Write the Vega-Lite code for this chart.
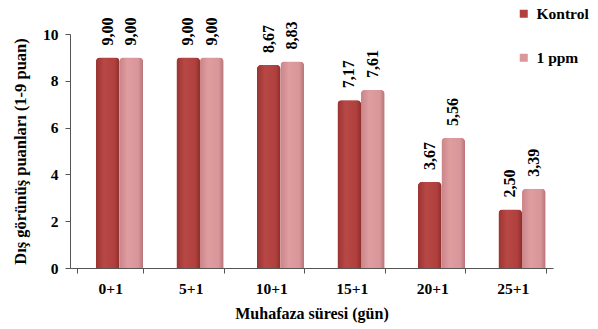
{
  "$schema": "https://vega.github.io/schema/vega-lite/v6.json",
  "width": 483,
  "height": 234,
  "autosize": {"type": "none"},
  "padding": {"left": 70, "top": 34, "right": 45, "bottom": 61},
  "background": "white",
  "config": {
    "locale": {"number": {"decimal": ",", "thousands": ".", "grouping": [3], "currency": ["", ""]}},
    "view": {"stroke": null},
    "font": "Liberation Serif"
  },
  "data": {
    "values": [
      {"sure": "0+1", "grup": "Kontrol", "puan": 9.00},
      {"sure": "0+1", "grup": "1 ppm", "puan": 9.00},
      {"sure": "5+1", "grup": "Kontrol", "puan": 9.00},
      {"sure": "5+1", "grup": "1 ppm", "puan": 9.00},
      {"sure": "10+1", "grup": "Kontrol", "puan": 8.67},
      {"sure": "10+1", "grup": "1 ppm", "puan": 8.83},
      {"sure": "15+1", "grup": "Kontrol", "puan": 7.17},
      {"sure": "15+1", "grup": "1 ppm", "puan": 7.61},
      {"sure": "20+1", "grup": "Kontrol", "puan": 3.67},
      {"sure": "20+1", "grup": "1 ppm", "puan": 5.56},
      {"sure": "25+1", "grup": "Kontrol", "puan": 2.50},
      {"sure": "25+1", "grup": "1 ppm", "puan": 3.39}
    ]
  },
  "encoding": {
    "x": {
      "field": "sure", "type": "nominal", "sort": null,
      "scale": {"paddingInner": 0.186, "paddingOuter": 0.093},
      "axis": {
        "title": "Muhafaza süresi (gün)",
        "titleFont": "Liberation Serif", "titleFontSize": 16, "titleFontWeight": "bold", "titleColor": "black",
        "titlePadding": 9,
        "labelAngle": 0, "labelFont": "Liberation Serif", "labelFontSize": 15.5, "labelFontWeight": "bold", "labelColor": "black",
        "labelPadding": 8,
        "domainColor": "#555555", "tickColor": "#555555", "tickBand": "extent", "tickSize": 5
      }
    },
    "xOffset": {"field": "grup", "type": "nominal", "sort": ["Kontrol", "1 ppm"],
      "scale": {"paddingInner": 0, "paddingOuter": 0.394, "align": 1}},
    "y": {
      "field": "puan", "type": "quantitative",
      "scale": {"domain": [0, 10]},
      "axis": {
        "title": "Dış görünüş puanları (1-9 puan)",
        "titleFont": "Liberation Serif", "titleFontSize": 16.5, "titleFontWeight": "bold", "titleColor": "black",
        "titlePadding": 14,
        "values": [0, 2, 4, 6, 8, 10],
        "grid": false,
        "labelFont": "Liberation Serif", "labelFontSize": 15.5, "labelFontWeight": "bold", "labelColor": "black",
        "labelPadding": 7,
        "domainColor": "#555555", "tickColor": "#555555", "tickSize": 5
      }
    }
  },
  "layer": [
    {
      "mark": {"type": "bar", "cornerRadiusTopLeft": 4, "cornerRadiusTopRight": 4},
      "encoding": {
        "color": {
          "field": "grup", "type": "nominal", "sort": ["Kontrol", "1 ppm"],
          "scale": {"domain": ["Kontrol", "1 ppm"], "range": ["#B0413E", "#DB979A"]},
          "legend": {
            "title": null, "orient": "none", "legendX": 446, "legendY": -28,
            "symbolType": "square", "symbolSize": 64, "symbolStrokeWidth": 0,
            "labelFont": "Liberation Serif", "labelFontSize": 15.5, "labelFontWeight": "bold", "labelColor": "black",
            "labelOffset": 5, "rowPadding": 27
          }
        }
      }
    },
    {
      "mark": {"type": "bar", "cornerRadiusTopLeft": 4, "cornerRadiusTopRight": 4},
      "encoding": {
        "fill": {
          "condition": {
            "test": "datum.grup === 'Kontrol'",
            "value": {"gradient": "linear", "x1": 0, "x2": 1, "y1": 0, "y2": 0,
              "stops": [{"offset": 0, "color": "#9A3431"}, {"offset": 0.35, "color": "#B84845"}, {"offset": 0.8, "color": "#B0403D"}, {"offset": 1, "color": "#8E2E2B"}]}
          },
          "value": {"gradient": "linear", "x1": 0, "x2": 1, "y1": 0, "y2": 0,
            "stops": [{"offset": 0, "color": "#C98589"}, {"offset": 0.35, "color": "#E09DA0"}, {"offset": 0.8, "color": "#D8969A"}, {"offset": 1, "color": "#B87478"}]}
        }
      }
    },
    {
      "mark": {"type": "text", "angle": 270, "align": "left", "baseline": "middle", "dx": 12, "font": "Liberation Serif", "fontSize": 16, "fontWeight": "bold", "color": "black"},
      "encoding": {
        "text": {"field": "puan", "type": "quantitative", "format": ".2f"}
      }
    }
  ]
}
